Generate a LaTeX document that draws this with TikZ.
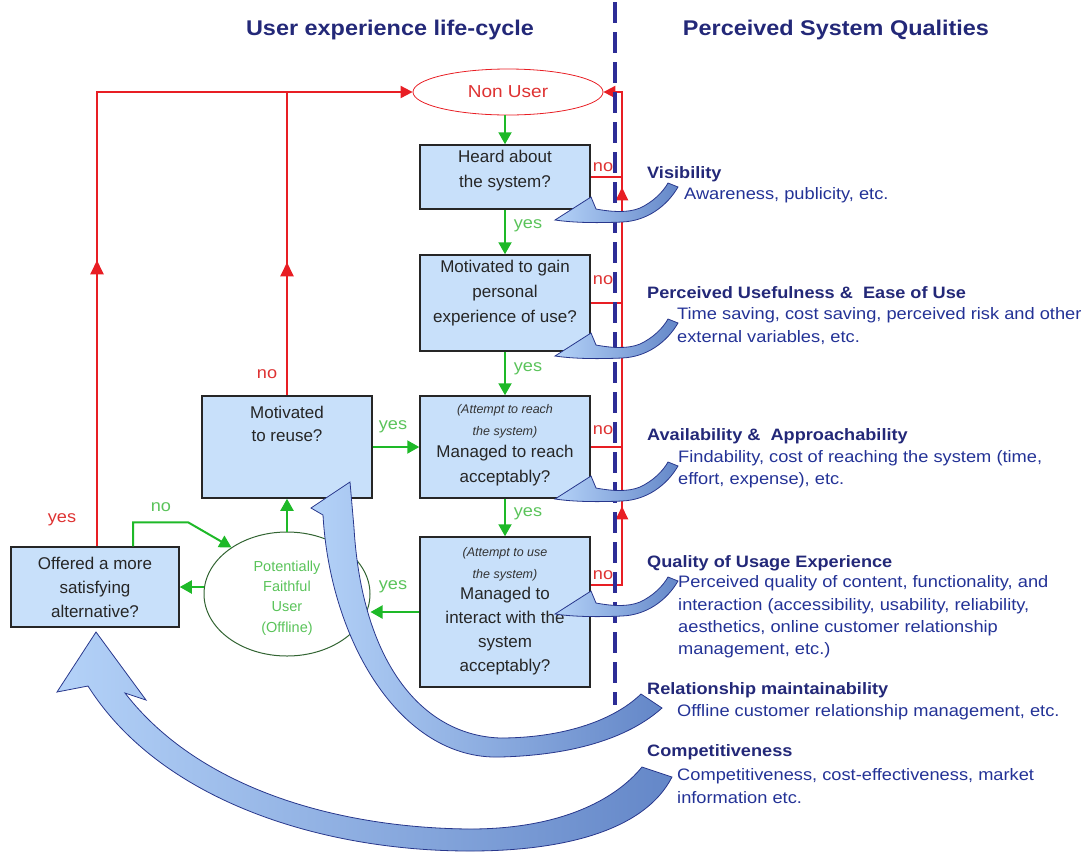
\documentclass[tikz,border=0pt]{standalone}
\usepackage{fontspec}
\setmainfont{Liberation Sans}
\newfontfamily\widefont[FakeStretch=1.1]{Liberation Sans}
\usetikzlibrary{arrows.meta,shapes.geometric,decorations.markings,calc}

\definecolor{boxblue}{RGB}{200,224,250}
\definecolor{flowred}{RGB}{232,30,36}
\definecolor{labelred}{RGB}{222,50,50}
\definecolor{flowgreen}{RGB}{30,185,40}
\definecolor{labelgreen}{RGB}{90,195,90}
\definecolor{ovalgreen}{RGB}{50,100,50}
\definecolor{navy}{RGB}{35,40,120}
\definecolor{bodyblue}{RGB}{35,50,150}
\definecolor{divider}{RGB}{45,45,150}
\definecolor{arrowlight}{RGB}{180,210,248}
\definecolor{arrowdark}{RGB}{100,135,200}
\definecolor{arrowedge}{RGB}{40,55,140}

\tikzset{
  box/.style={draw=black!85, line width=1.5pt, fill=boxblue, minimum width=170pt, inner sep=0pt},
  boxtext/.style={align=center, font=\fontsize{17}{25}\selectfont, text=black!85, inner sep=0pt},
  smalltext/.style={align=center, font=\fontsize{12.5}{22}\selectfont\itshape, text=black!80, inner sep=0pt},
  garrow/.style={flowgreen, line width=2pt, -{Triangle[length=12pt,width=13pt]}},
  rline/.style={flowred, line width=2pt},
  rtip/.style={-{Triangle[length=12pt,width=12pt]}},
  upmark/.style={postaction={decorate}, decoration={markings,
      mark=at position #1 with {\arrow{Triangle[length=14pt,width=13pt]}}}},
  ylab/.style={text=labelgreen, font=\widefont\fontsize{16.5}{20}\selectfont, inner sep=0pt},
  nlab/.style={text=labelred, font=\widefont\fontsize{16.5}{20}\selectfont, inner sep=0pt},
  heading/.style={anchor=west, inner sep=0pt, font=\widefont\bfseries\fontsize{16.5}{22}\selectfont, text=navy},
  body/.style={anchor=west, align=left, inner sep=0pt, font=\widefont\fontsize{16.6}{22.3}\selectfont, text=bodyblue},
  title/.style={inner sep=0pt, font=\widefont\bfseries\fontsize{21.3}{26}\selectfont, text=navy},
  blockarrow/.style={draw=arrowedge, line width=0.8pt, left color=arrowlight, right color=arrowdark},
  qarrow/.pic={
    \path[blockarrow]
      (-65,2) -- (-29,-21) -- (-24,-9)
      .. controls (-8,-6) and (8,-5) .. (20,-10)
      .. controls (33,-16) and (43,-26) .. (48,-35)
      -- (58,-31)
      .. controls (47,-12) and (27,3) .. (2,4)
      .. controls (-20,5) and (-45,5) .. (-65,2) -- cycle;
  }
}

\begin{document}
\begin{tikzpicture}[x=1pt,y=-1pt]
\useasboundingbox (0,0) rectangle (1086,855);

% column titles
\node[title] (ttl) at (390,30) {User experience life-cycle};
\node[title] (ttr) at (836,30) {Perceived System Qualities};

% life-cycle states and decisions
\node[ellipse, draw=flowred, line width=0.8pt, minimum width=190pt, minimum height=46pt, inner sep=0pt,
      text=labelred, font=\widefont\fontsize{17.3}{20}\selectfont] (nu) at (508,92) {Non User};
\node[box, minimum height=64pt]  (b1) at (505,177) {};
\node[box, minimum height=96pt]  (b2) at (505,303) {};
\node[box, minimum height=102pt] (b3) at (505,447) {};
\node[box, minimum height=150pt] (b4) at (505,612) {};
\node[box, minimum width=170pt, minimum height=102pt] (reuse) at (287,447) {};
\node[box, minimum width=168pt, minimum height=80pt] (off) at (95,587) {};
\node[ellipse, draw=ovalgreen, line width=1pt, minimum width=166pt, minimum height=124pt, inner sep=0pt] (pfu) at (287,594) {};

\node[boxtext] (t1) at (505,171) {Heard about\\the system?};
\node[boxtext] (t2) at (505,293) {Motivated to gain\\personal\\experience of use?};
\node[smalltext] (t3a) at (505,421) {(Attempt to reach\\the system)};
\node[boxtext] (t3b) at (505,466) {Managed to reach\\acceptably?};
\node[smalltext] (t4a) at (505,564) {(Attempt to use\\the system)};
\node[boxtext, font=\fontsize{17}{24}\selectfont] (t4b) at (505,631) {Managed to\\interact with the\\system\\acceptably?};
\node[boxtext, font=\fontsize{17}{23}\selectfont] (t5) at (287,424) {Motivated\\to reuse?};
\node[boxtext, font=\fontsize{17}{24}\selectfont] (t6) at (95,587) {Offered a more\\satisfying\\alternative?};
\node[align=center, font=\fontsize{14.5}{20.3}\selectfont, text=labelgreen, inner sep=0pt] (t7) at (287,598) {Potentially\\Faithful\\User\\(Offline)};

% green "yes" flow
\draw[garrow] (b1.north |- nu.south) -- (b1.north);
\draw[garrow] (b1.south) -- (b2.north);
\draw[garrow] (b2.south) -- (b3.north);
\draw[garrow] (b3.south) -- (b4.north);
\draw[garrow] (reuse.east) -- (b3.west);
\draw[garrow] (b4.west) -- (b4.west -| pfu.east);
\draw[garrow] (pfu.west |- off.east) -- (off.east);
\draw[garrow] (pfu.north) -- (reuse.south);
\draw[garrow] ([xshift=38pt]off.north) -- ++(0,-24) -- ++(55,0) -- (pfu.140);

\node[ylab] (y1) at (528,226) {yes};
\node[ylab] (y2) at (528,369) {yes};
\node[ylab] (y3) at (528,514) {yes};
\node[ylab] (y4) at (393,427) {yes};
\node[ylab] (y5) at (393,587) {yes};
\node[ylab] (n6) at (161,507) {no};

% red "no" flow back to Non User
\coordinate (rx) at (622,0);
\draw[rline] (b1.east) -- (b1.east -| rx);
\draw[rline] (b2.east) -- (b2.east -| rx);
\draw[rline] (b3.east) -- (b3.east -| rx);
\draw[rline, rtip, postaction={decorate}, decoration={markings,
      mark=at position 110pt with {\arrow{Triangle[length=13pt,width=12pt]}},
      mark=at position 272pt with {\arrow{Triangle[length=13pt,width=12pt]}},
      mark=at position 429pt with {\arrow{Triangle[length=13pt,width=12pt]}}}]
  ([yshift=27pt]b4.east) -- ([yshift=27pt]b4.east -| rx) -- (rx |- nu.east) -- (nu.east);
\draw[rline, rtip, upmark=286pt] ([xshift=2pt]off.north) |- (nu.west);
\draw[rline, upmark=133pt] (reuse.north) -- (reuse.north |- nu.west);

\node[nlab] (n1) at (603,167) {no};
\node[nlab] (n2) at (603,280) {no};
\node[nlab] (n3) at (603,430) {no};
\node[nlab] (n4) at (603,575) {no};
\node[nlab] (n5) at (267,374) {no};
\node[nlab] (y6) at (62,520) {yes};

% divider between the two columns
\draw[divider, line width=4.5pt, dash pattern=on 21pt off 9pt] (615,2) -- (615,705);

% perceived qualities
\node[heading] (h1) at (647,174) {Visibility};
\node[body] (d1) at (684,195) {Awareness, publicity, etc.};
\node[heading] (h2) at (647,293) {Perceived Usefulness \&\ \ Ease of Use};
\node[body] (d2) at (677,326) {Time saving, cost saving, perceived risk and other\\external variables, etc.};
\node[heading] (h3) at (647,436) {Availability \&\ \ Approachability};
\node[body] (d3) at (678,469) {Findability, cost of reaching the system (time,\\effort, expense), etc.};
\node[heading] (h4) at (647,563) {Quality of Usage Experience};
\node[body] (d4) at (678,617) {Perceived quality of content, functionality, and\\interaction (accessibility, usability, reliability,\\aesthetics, online customer relationship\\management, etc.)};
\node[heading] (h5) at (647,690) {Relationship maintainability};
\node[body] (d5) at (677,712) {Offline customer relationship management, etc.};
\node[heading] (h6) at (647,752) {Competitiveness};
\node[body] (d6) at (677,786) {Competitiveness, cost-effectiveness, market\\information etc.};

% curved block arrows: qualities feeding the decisions
\pic at (620,218) {qarrow};
\pic at (620,354) {qarrow};
\pic at (620,497) {qarrow};
\pic at (620,612) {qarrow};

\path[blockarrow] (350,482) -- (311,508) -- (323,515)
  .. controls (330,640) and (400,760) .. (500,757)
  .. controls (580,755) and (632,735) .. (662,708)
  -- (641,694)
  .. controls (612,722) and (560,738) .. (500,738)
  .. controls (420,735) and (362,660) .. (354,528) -- cycle;

\path[blockarrow] (96,632) -- (146,700) -- (125,693)
  .. controls (200,790) and (340,828) .. (470,829)
  .. controls (560,829) and (615,800) .. (642,767)
  -- (672,777)
  .. controls (645,830) and (565,851) .. (470,851)
  .. controls (320,851) and (160,800) .. (88,686)
  -- (57,692) -- cycle;
\end{tikzpicture}
\end{document}
